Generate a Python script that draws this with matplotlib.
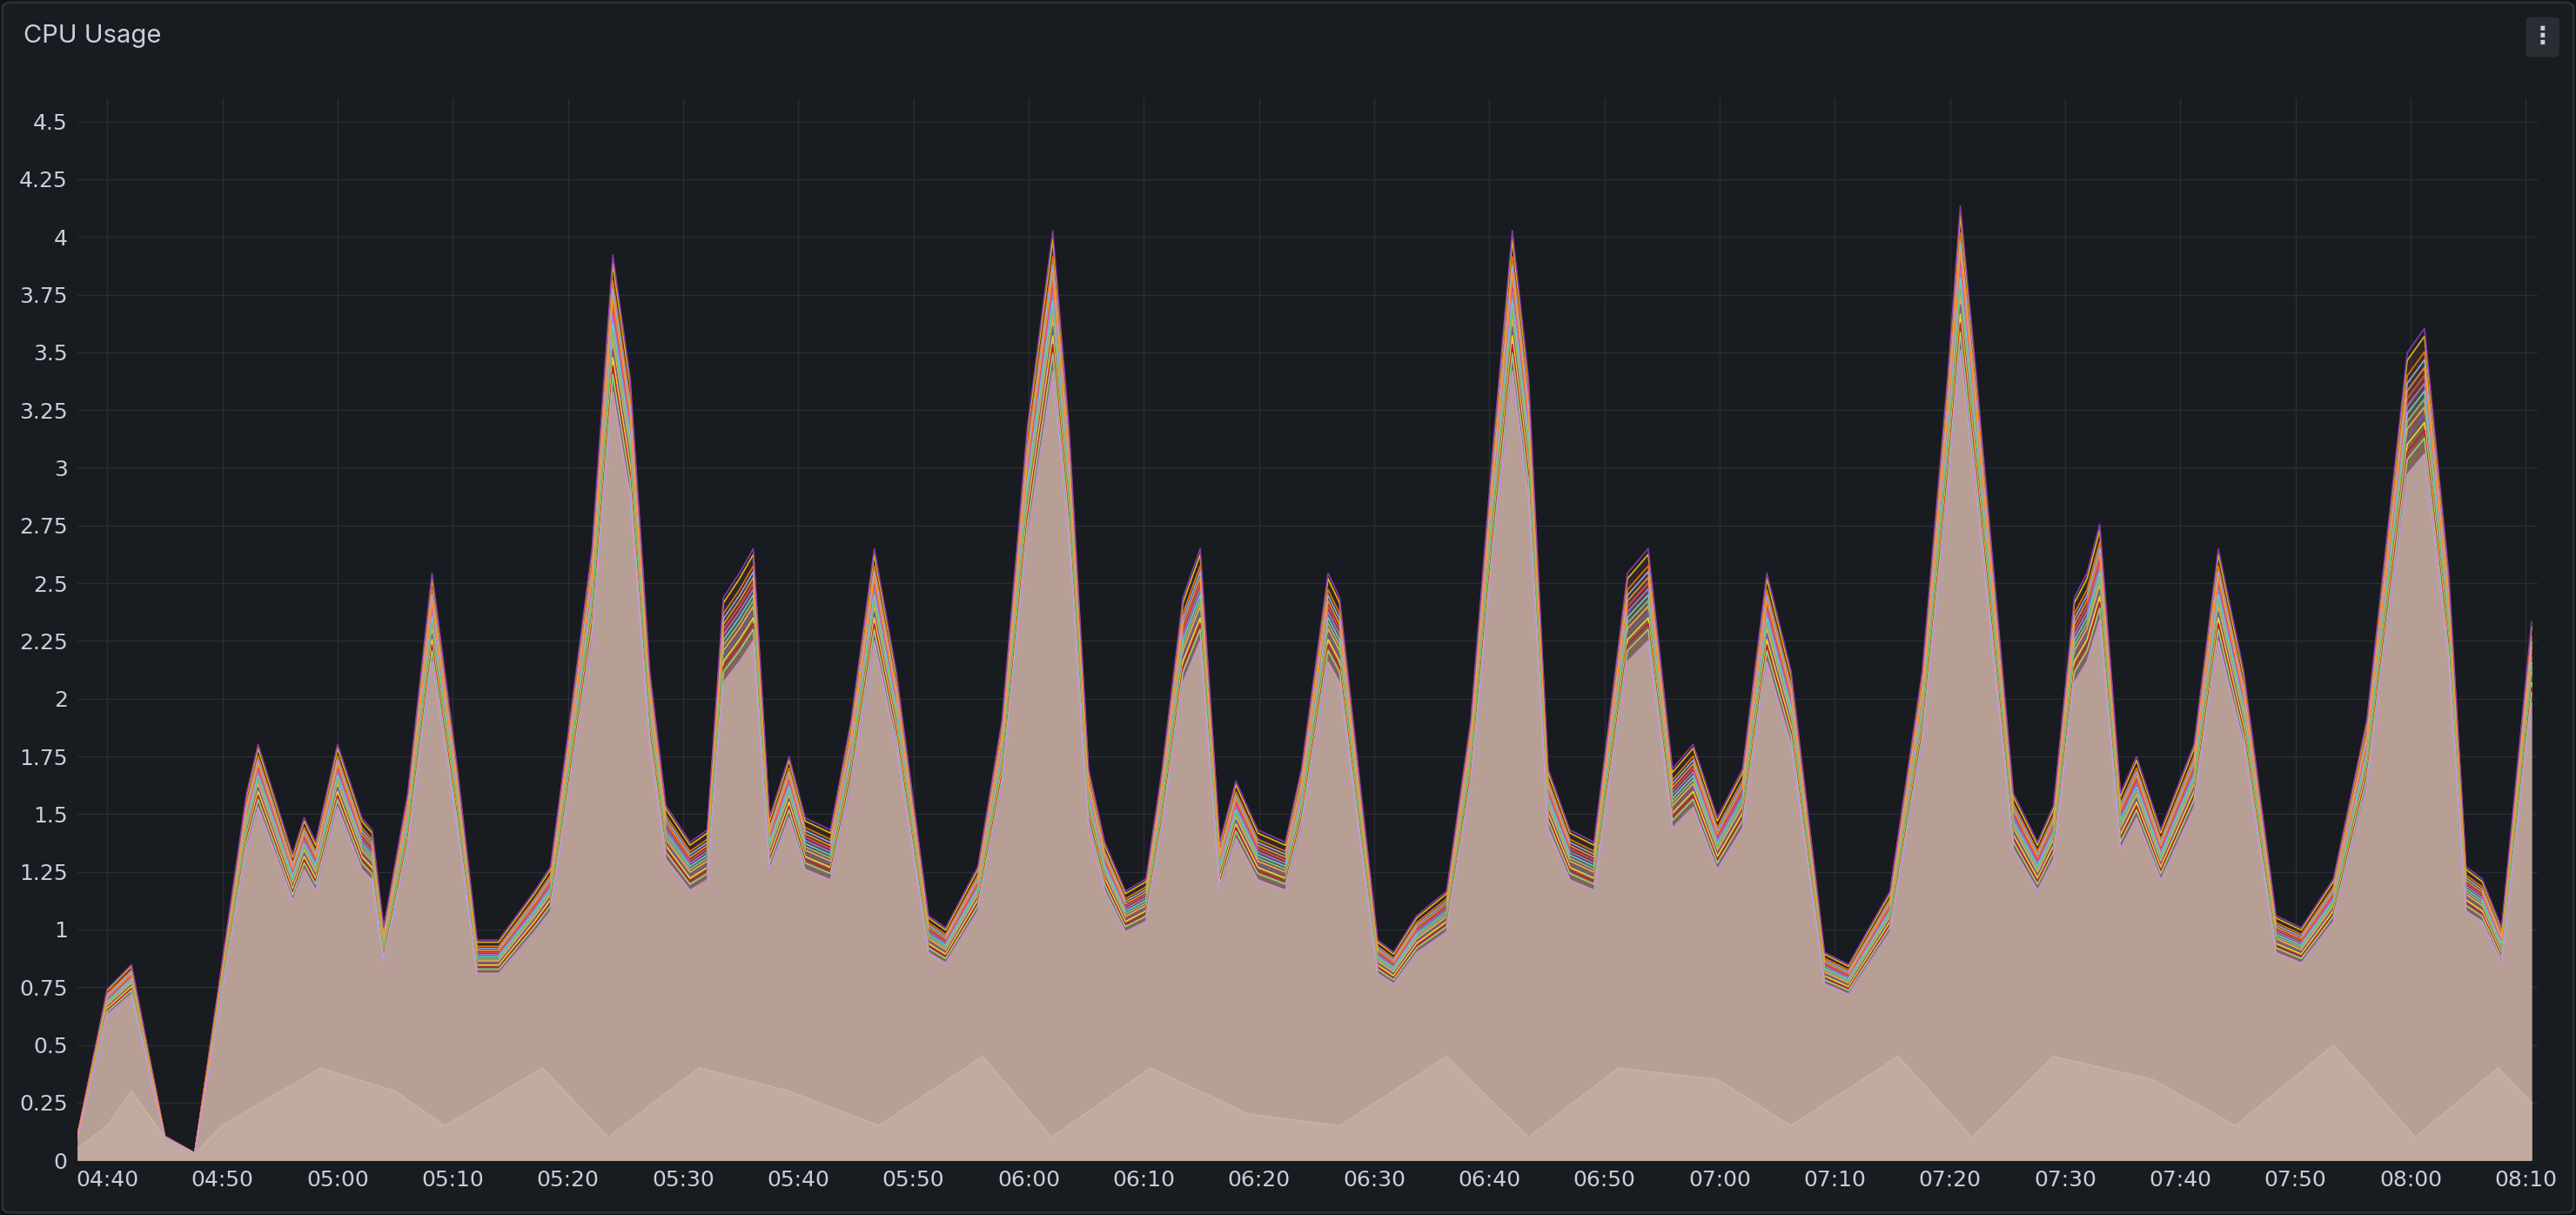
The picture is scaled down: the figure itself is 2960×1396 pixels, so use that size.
import numpy as np
import matplotlib.pyplot as plt
from matplotlib.patches import FancyBboxPatch

# minutes after 04:40 and CPU value of the main envelope
t_main = [-2.6, 0, 2.1, 5, 7.6, 12.1, 13.1, 16.1, 17.1, 18.1, 20, 22.1, 23, 24, 26.1, 28.2,
          30.4, 32.1, 34, 37.1, 38.5, 39.9, 42.1, 43.9, 45.4, 47.1, 48.5, 50.6, 52.1, 53.5,
          54.9, 56.1, 57.5, 59.2, 60.6, 62.8, 64.6, 66.6, 68.5, 71.3, 72.8, 75.6, 77.7, 79.9,
          82.1, 83.5, 85.2, 86.6, 88.4, 90.2, 91.6, 93.4, 94.9, 96.6, 98, 99.9, 102.3, 103.7,
          106, 107, 109.1, 110.3, 111.7, 113.7, 116.3, 118.4, 120.3, 122, 123.4, 125.1, 127,
          129.1, 132, 133.8, 135.9, 137.7, 139.8, 142, 144.1, 146.2, 149.1, 151.2, 154.8,
          157.6, 159.8, 160.9, 162.3, 165.5, 167.6, 169, 170.8, 171.9, 173, 174.8, 176.2,
          178.3, 181.2, 183.3, 185.5, 188.3, 190.5, 193.3, 196.2, 199.7, 201.2, 203.3, 204.8,
          206.2, 207.9, 210.5]
v_main = [0.1, 0.7, 0.8, 0.1, 0.03, 1.5, 1.7, 1.25, 1.4, 1.3, 1.7, 1.4, 1.35, 0.95, 1.5, 2.4,
          1.6, 0.9, 0.9, 1.1, 1.2, 1.7, 2.5, 3.7, 3.2, 2.0, 1.45, 1.3, 1.35, 2.3,
          2.4, 2.5, 1.4, 1.65, 1.4, 1.35, 1.8, 2.5, 2.0, 1.0, 0.95, 1.2, 1.8, 3.0,
          3.8, 3.0, 1.6, 1.3, 1.1, 1.15, 1.6, 2.3, 2.5, 1.3, 1.55, 1.35, 1.3, 1.6,
          2.4, 2.3, 1.4, 0.9, 0.85, 1.0, 1.1, 1.8, 2.9, 3.8, 3.2, 1.6, 1.35,
          1.3, 2.4, 2.5, 1.6, 1.7, 1.4, 1.6, 2.4, 2.0, 0.85, 0.8, 1.1,
          2.0, 3.2, 3.9, 3.2, 1.5, 1.3, 1.45, 2.3, 2.4, 2.6, 1.5, 1.65,
          1.35, 1.7, 2.5, 2.0, 1.0, 0.95, 1.15, 1.8, 3.3, 3.4, 2.4, 1.2,
          1.15, 0.95, 2.2]

# low background series (minutes after 04:40)
t_low = [-2.6, 0, 2.1, 5, 7.6, 10, 18.5, 25, 29.3, 37.8, 43.5, 51.4, 59.2, 67, 76, 82, 90.6, 99.1, 107,
         116.3, 123.4, 131.2, 139.8, 146.2, 155.5, 161.9, 169, 177.6, 184.8, 193.3, 200.4, 207.6, 210.5]
v_low = [0.05, 0.15, 0.3, 0.1, 0.03, 0.15, 0.4, 0.3, 0.15, 0.4, 0.1, 0.4, 0.3, 0.15, 0.45, 0.1, 0.4, 0.2, 0.15,
         0.45, 0.1, 0.4, 0.35, 0.15, 0.45, 0.1, 0.45, 0.35, 0.15, 0.5, 0.1, 0.4, 0.25]

scales = [1.05, 1.03, 1.02, 1.0, 0.99, 0.98, 0.97, 0.96, 0.95, 0.94, 0.93, 0.92, 1.06, 0.97, 1.01, 0.9]
colors = ['#f2cc0c', '#ff780a', '#8ab8ff', '#f2495c', '#b877d9', '#5ae0e0', '#fe85a0', '#ffb357',
          '#705da0', '#fade2a', '#c4162a', '#96d98d', '#8f3bb8', '#73bf69', '#ff9830', '#ca95e5']

bg = '#181b1f'
fig = plt.figure(figsize=(29.6, 13.96), dpi=100, facecolor='#111217')
fig.patches.append(FancyBboxPatch((0.001, 0.002), 0.998, 0.996, boxstyle='round,pad=0,rounding_size=0.004',
                                  transform=fig.transFigure, facecolor=bg, edgecolor='#2c2f35', lw=2,
                                  zorder=-10))
ax = fig.add_axes([0.030, 0.045, 0.955, 0.874])
ax.set_facecolor(bg)

t = np.array(t_main)
v = np.array(v_main)
for s, c in zip(scales, colors):
    y = v * s
    ax.fill_between(t, 0, y, color=c, alpha=0.07, lw=0)
    ax.plot(t, y, color=c, lw=1.2, alpha=0.9)
ax.fill_between(t, 0, v * 0.9, color='#b89f96', lw=0)
ax.fill_between(t_low, 0, v_low, color='#c2ab9e', lw=0)
ax.plot(t_low, v_low, color='#cbb3a5', lw=1)

ax.set_xlim(-2.6, 211)
ax.set_ylim(0, 4.6)
yt = [0, 0.25, 0.5, 0.75, 1, 1.25, 1.5, 1.75, 2, 2.25, 2.5, 2.75, 3, 3.25, 3.5, 3.75, 4, 4.25, 4.5]
ax.set_yticks(yt)
ax.set_yticklabels([('%g' % y) for y in yt])
xt = list(range(0, 211, 10))
ax.set_xticks(xt)
ax.set_xticklabels(['%02d:%02d' % ((280 + m) // 60, (280 + m) % 60) for m in xt])
ax.tick_params(colors='#ccccdc', labelsize=18, length=0, pad=8)
ax.grid(color='#2a2d33', lw=1)
ax.set_axisbelow(True)
for sp in ax.spines.values():
    sp.set_visible(False)

fig.text(0.009, 0.97, 'CPU Usage', color='#ccccdc', fontsize=21, va='center', family='Inter')
fig.patches.append(FancyBboxPatch((0.9805, 0.953), 0.013, 0.033, boxstyle='round,pad=0,rounding_size=0.003',
                                  transform=fig.transFigure, facecolor='#2a2d33', lw=0))
fig.text(0.987, 0.97, '⋮', color='#ccccdc', fontsize=20, ha='center', va='center', fontweight='bold')

fig.savefig('out.png', facecolor=fig.get_facecolor())
